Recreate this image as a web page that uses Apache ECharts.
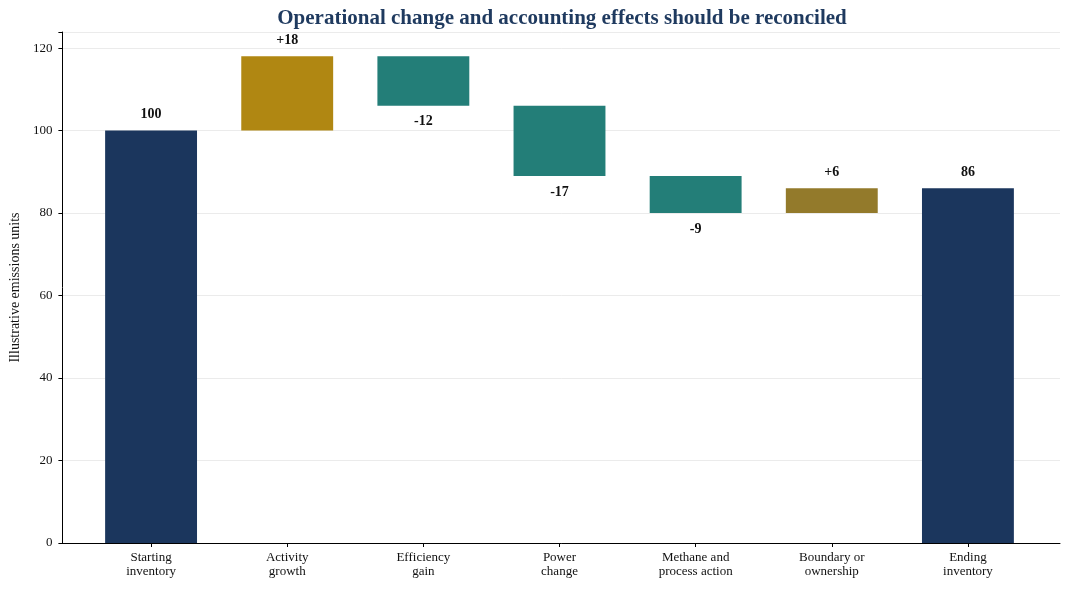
<!DOCTYPE html>
<html>
<head>
<meta charset="utf-8">
<script src="https://cdn.jsdelivr.net/npm/echarts@6/dist/echarts.min.js"></script>
<style>
  html, body { margin: 0; padding: 0; background: #fff; }
  #chart { width: 1070px; height: 590px; }
</style>
</head>
<body>
<div id="chart"></div>
<script>
const categories = ['Starting\ninventory', 'Activity\ngrowth', 'Efficiency\ngain', 'Power\nchange',
  'Methane and\nprocess action', 'Boundary or\nownership', 'Ending\ninventory']
// step type: total bars start from zero, deltas float on running total
const kinds = ['total', 'delta', 'delta', 'delta', 'delta', 'delta', 'total']
const values = [100, 18, -12, -17, -9, 6, 86]
const colors = ['#1b365d', '#b08712', '#237e78', '#237e78', '#237e78', '#937a2b', '#1b365d']

const font = '"Liberation Serif", "DejaVu Serif", serif'
const yMax = 123.9

// build base (invisible) and visible parts
const base = []
const visible = []
let running = 0
values.forEach((v, i) => {
  if (kinds[i] === 'total') {
    base.push(0)
    visible.push(v)
    running = v
  } else {
    const lo = v >= 0 ? running : running + v
    base.push(lo)
    visible.push(Math.abs(v))
    running += v
  }
})

const labelText = values.map((v, i) => kinds[i] === 'total' ? String(v) : (v > 0 ? '+' + v : String(v)))

const chart = echarts.init(document.getElementById('chart'))
chart.setOption({
  animation: false,
  title: {
    text: 'Operational change and accounting effects should be reconciled',
    left: 557,
    textAlign: 'center',
    top: 3,
    textStyle: { fontFamily: font, fontSize: 21, fontWeight: 'bold', color: '#1f3a5f' }
  },
  // outer frame (axis lines, y labels, grid lines) and inner band for the categories
  grid: [
    { left: 59, right: 10, top: 32, bottom: 47, containLabel: false },
    { left: 83, right: 34, top: 32, bottom: 47, containLabel: false }
  ],
  xAxis: [
    {
      gridIndex: 0,
      type: 'value',
      min: 0,
      max: 1,
      axisLine: { show: true, onZero: false, lineStyle: { color: '#000', width: 1 } },
      axisTick: { show: false },
      axisLabel: { show: false },
      splitLine: { show: false }
    },
    {
      gridIndex: 1,
      type: 'category',
      data: categories,
      axisLine: { show: true, lineStyle: { color: 'rgba(0,0,0,0)' } },
      axisTick: { show: true, alignWithLabel: true, length: 4, lineStyle: { color: '#000', width: 1 } },
      axisLabel: { fontFamily: font, fontSize: 13, color: '#111', lineHeight: 14, margin: 8 }
    }
  ],
  yAxis: [
    {
      gridIndex: 0,
      type: 'value',
      min: 0,
      max: yMax,
      interval: 20,
      name: 'Illustrative emissions units',
      nameLocation: 'middle',
      nameGap: 37,
      nameTextStyle: { fontFamily: font, fontSize: 14, color: '#111' },
      axisLine: { show: true, lineStyle: { color: '#000', width: 1 } },
      axisTick: { show: true, length: 4, lineStyle: { color: '#000' } },
      axisLabel: {
        fontFamily: font, fontSize: 13, color: '#111', margin: 10,
        formatter: v => (v % 20 === 0 ? String(v) : '')
      },
      splitLine: { lineStyle: { color: '#ebebeb', width: 1 } }
    },
    {
      gridIndex: 1,
      type: 'value',
      min: 0,
      max: yMax,
      show: false
    }
  ],
  series: [
    {
      type: 'bar',
      xAxisIndex: 1,
      yAxisIndex: 1,
      stack: 'wf',
      data: base,
      itemStyle: { color: 'rgba(0,0,0,0)', borderWidth: 0, borderColor: 'rgba(0,0,0,0)' },
      emphasis: { disabled: true },
      silent: true
    },
    {
      type: 'bar',
      xAxisIndex: 1,
      yAxisIndex: 1,
      stack: 'wf',
      barWidth: '67.5%',
      data: visible.map((v, i) => ({
        value: v,
        itemStyle: { color: colors[i], borderWidth: 0, borderColor: colors[i] },
        label: {
          show: true,
          position: values[i] < 0 ? 'bottom' : 'top',
          distance: 9,
          formatter: labelText[i],
          fontFamily: font,
          fontSize: 14,
          fontWeight: 'bold',
          color: '#111'
        }
      }))
    }
  ]
})
</script>
</body>
</html>
